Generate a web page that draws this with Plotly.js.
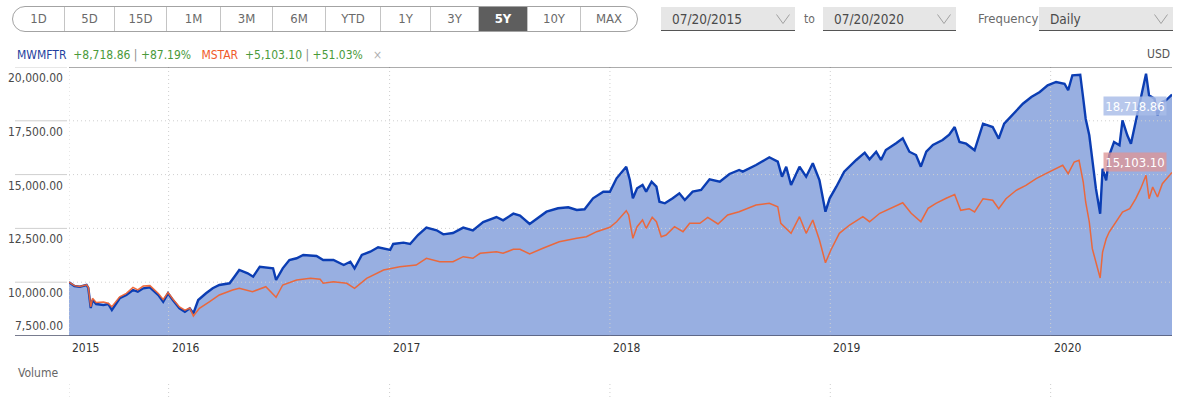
<!DOCTYPE html>
<html>
<head>
<meta charset="utf-8">
<script src="https://cdn.plot.ly/plotly-3.0.1.min.js"></script>
<style>
  html, body { margin:0; padding:0; background:#fff; }
  body { width:1186px; height:397px; position:relative; overflow:hidden;
         font-family:"DejaVu Sans Condensed","Liberation Sans Narrow","DejaVu Sans",sans-serif; }
  #chart { position:absolute; left:0; top:0; width:1186px; height:397px; }
  .grp { position:absolute; left:12px; top:6px; width:624px; height:24px; border:1px solid #a3a3a3;
         border-radius:13px; overflow:hidden; display:flex; z-index:5; background:#fff; }
  .grp div { flex:none; box-sizing:border-box; text-align:center; line-height:24px; font-size:13px; color:#6a6a6a;
             border-right:1px solid #c4c4c4; }
  .grp div:last-child { border-right:none; }
  .grp div.sel { background:#5e5e5e; color:#fff; font-weight:bold; }
  .dbox { position:absolute; top:7px; height:24px; background:#e6e6e6; border-bottom:1px solid #555;
          box-sizing:border-box; font-size:13.5px; color:#4a4a4a; line-height:24px; padding-left:11px; z-index:5; }
  .dbox svg { position:absolute; right:5px; top:7px; }
  .lbl { position:absolute; top:7px; line-height:24px; color:#6a6a6a; z-index:5; }
</style>
</head>
<body>
<div class="grp" id="grp"></div>
<div class="dbox" style="left:661px;width:134px;">07/20/2015<svg width="14" height="10"><polyline points="0.5,0.5 7,9.5 13.5,0.5" fill="none" stroke="#a0a0a0" stroke-width="1"/></svg></div>
<div class="lbl" style="left:804px;font-size:12px;">to</div>
<div class="dbox" style="left:823px;width:133px;">07/20/2020<svg width="14" height="10"><polyline points="0.5,0.5 7,9.5 13.5,0.5" fill="none" stroke="#a0a0a0" stroke-width="1"/></svg></div>
<div class="lbl" style="left:978px;font-size:13px;">Frequency</div>
<div class="dbox" style="left:1039px;width:134px;">Daily<svg width="14" height="10"><polyline points="0.5,0.5 7,9.5 13.5,0.5" fill="none" stroke="#a0a0a0" stroke-width="1"/></svg></div>
<div id="chart"></div>
<script>
// ---------- data ----------
const rangeButtons = ['1D','5D','15D','1M','3M','6M','YTD','1Y','3Y','5Y','10Y','MAX'];
const selectedButton = '5Y';

const mwmftrDates = ['2015-07-20','2015-07-29','2015-08-07','2015-08-18','2015-08-21','2015-08-25','2015-08-28','2015-09-03','2015-09-15','2015-09-23','2015-09-29','2015-10-12','2015-10-23','2015-11-03','2015-11-11','2015-11-20','2015-12-01','2015-12-06','2015-12-15','2015-12-23','2015-12-31',
'2016-01-08','2016-01-19','2016-01-28','2016-02-05','2016-02-11','2016-02-19','2016-03-03','2016-03-14','2016-03-25','2016-04-11','2016-04-19','2016-04-27','2016-05-11','2016-05-20','2016-05-31','2016-06-11','2016-06-22','2016-06-27','2016-07-08','2016-07-19','2016-07-31','2016-08-11','2016-09-02','2016-09-13','2016-09-30','2016-10-17','2016-10-28','2016-11-04','2016-11-16','2016-11-30','2016-12-13',
'2017-01-02','2017-01-07','2017-01-24','2017-02-04','2017-02-17','2017-03-03','2017-03-20','2017-03-31','2017-04-16','2017-05-03','2017-05-19','2017-06-05','2017-06-27','2017-07-08','2017-07-25','2017-08-05','2017-08-21','2017-09-07','2017-09-18','2017-10-07','2017-10-24','2017-11-07','2017-11-20','2017-12-04','2017-12-21',
'2018-01-01','2018-01-12','2018-01-28','2018-02-03','2018-02-08','2018-02-15','2018-02-24','2018-03-02','2018-03-11','2018-03-19','2018-03-24','2018-04-02','2018-04-15','2018-04-26','2018-05-05','2018-05-18','2018-06-01','2018-06-15','2018-07-02','2018-07-18','2018-08-03','2018-08-09','2018-08-31','2018-09-22','2018-10-06','2018-10-13','2018-10-20','2018-10-28','2018-11-11','2018-11-22','2018-12-03','2018-12-14','2018-12-24','2018-12-31',
'2019-01-11','2019-01-24','2019-02-13','2019-02-27','2019-03-07','2019-03-18','2019-03-26','2019-04-03','2019-04-20','2019-05-01','2019-05-12','2019-05-23','2019-05-31','2019-06-09','2019-06-20','2019-07-06','2019-07-17','2019-07-26','2019-08-03','2019-08-14','2019-08-28','2019-09-11','2019-09-27','2019-10-07','2019-10-16','2019-11-05','2019-11-16','2019-11-30','2019-12-14','2019-12-27',
'2020-01-10','2020-01-24','2020-01-30','2020-02-06','2020-02-19','2020-02-24','2020-02-28','2020-03-05','2020-03-10','2020-03-16','2020-03-23','2020-03-27','2020-04-02','2020-04-07','2020-04-15','2020-04-24','2020-04-29','2020-05-07','2020-05-13','2020-05-21','2020-05-29','2020-06-07','2020-06-12','2020-06-21','2020-06-26','2020-07-04','2020-07-10','2020-07-20'];
const mwmftrValues = [10000,9824,9791,9870,9731,8801,9173,8987,8941,8987,8708,9252,9405,9638,9559,9717,9763,9638,9405,9094,9484,
9173,8787,8629,8787,8555,9173,9484,9717,9870,9949,10256,10567,10414,10256,10720,10692,10646,10102,10646,11032,11111,11264,11218,11032,11032,10799,10953,10646,11264,11418,11623,
11497,11776,11837,11776,12194,12535,12410,12225,12287,12535,12410,12796,13028,12875,13186,13093,12705,13044,13276,13434,13481,13355,13388,13899,14206,
14206,14828,15367,14749,13899,14364,14517,14206,14670,14438,13741,13667,13899,14131,13820,14206,14285,14782,14670,15028,15214,15135,15446,15804,15600,14903,15367,14517,15367,14903,15525,14749,13276,13899,
14438,15135,15679,16018,15711,16064,15679,16143,16455,16687,16064,15911,15367,16064,16376,16608,16854,17212,16515,16436,16130,17366,17212,16669,17366,17988,18295,18606,18839,19150,
19303,19224,18918,19615,19643,18527,17598,16827,15586,14345,13183,15274,14735,15897,16515,16362,17524,16827,16436,17524,18527,19689,18685,18527,17756,18374,18453,18718.86];

const mstarDates = ['2015-07-20','2015-07-29','2015-08-07','2015-08-18','2015-08-21','2015-08-25','2015-08-28','2015-09-03','2015-09-15','2015-09-23','2015-09-29','2015-10-12','2015-10-23','2015-11-03','2015-11-11','2015-11-20','2015-12-01','2015-12-06','2015-12-15','2015-12-23','2015-12-31',
'2016-01-08','2016-01-19','2016-01-28','2016-02-05','2016-02-11','2016-02-21','2016-03-09','2016-03-25','2016-04-16','2016-04-27','2016-05-19','2016-06-10','2016-06-27','2016-07-08','2016-07-31','2016-08-23','2016-09-08','2016-09-13','2016-09-30','2016-10-22','2016-11-04','2016-11-24','2016-12-22',
'2017-01-18','2017-02-14','2017-03-03','2017-03-25','2017-04-16','2017-05-03','2017-05-19','2017-05-31','2017-06-27','2017-07-08','2017-07-25','2017-08-05','2017-08-21','2017-09-12','2017-10-09','2017-11-07','2017-11-23','2017-12-10',
'2018-01-01','2018-01-12','2018-01-28','2018-02-01','2018-02-08','2018-02-15','2018-02-24','2018-03-02','2018-03-12','2018-03-19','2018-03-27','2018-04-04','2018-04-18','2018-05-02','2018-05-13','2018-05-30','2018-06-12','2018-06-29','2018-07-15','2018-08-03','2018-08-31','2018-09-22','2018-10-06','2018-10-11','2018-10-28','2018-11-11','2018-11-22','2018-12-03','2018-12-14','2018-12-24',
'2019-01-02','2019-01-16','2019-02-02','2019-02-24','2019-03-07','2019-03-24','2019-04-15','2019-05-01','2019-05-15','2019-05-31','2019-06-12','2019-06-25','2019-07-12','2019-07-26','2019-08-05','2019-08-19','2019-08-28','2019-09-11','2019-09-27','2019-10-07','2019-10-19','2019-11-05','2019-11-21','2019-12-08','2019-12-24',
'2020-01-04','2020-01-21','2020-01-30','2020-02-09','2020-02-17','2020-02-24','2020-02-28','2020-03-05','2020-03-10','2020-03-16','2020-03-23','2020-03-27','2020-04-02','2020-04-07','2020-04-18','2020-04-29','2020-05-11','2020-05-21','2020-05-29','2020-06-07','2020-06-12','2020-06-18','2020-06-26','2020-07-04','2020-07-20'];
const mstarValues = [10000,9840,9800,9880,9760,8860,9250,9060,9080,9020,8860,9320,9480,9760,9640,9820,9840,9700,9480,9200,9520,
9220,8850,8700,8800,8430,8787,9094,9405,9638,9717,9559,9791,9298,9870,10102,10181,10135,9949,10023,9949,9717,10181,10567,
10720,10799,11111,10953,10953,11185,11111,11343,11417,11343,11529,11529,11311,11575,11882,12040,12114,12347,
12551,12811,13322,13123,12040,12579,12891,12505,13016,12811,12114,12193,12579,12347,12737,12737,13016,12705,13123,13276,13588,13667,13509,12737,12272,13044,12272,12891,11961,10906,
11496,12272,12658,13044,12811,13202,13509,13694,13202,12811,13434,13667,13899,14075,13341,13416,13262,13880,13806,13416,13880,14271,14503,14810,15042,
15200,15432,15042,15586,15665,14656,13727,12798,11557,10939,10195,11403,12022,12333,12798,13262,13416,13880,14345,14968,13880,14424,13959,14577,15103.10];

const seriesNames = ['MWMFTR','MSTAR'];
const seriesChange = ['+8,718.86','+5,103.10'];
const seriesChangePct = ['+87.19%','+51.03%'];
const endLabels = ['18,718.86','15,103.10'];
const currency = 'USD';

const yTickValues = [20000,17500,15000,12500,10000,7500];
const yTickLabels = ['20,000.00','17,500.00','15,000.00','12,500.00','10,000.00','7,500.00'];
const xTickDates = ['2015-07-20','2016-01-01','2017-01-01','2018-01-01','2019-01-01','2020-01-01'];
const xTickLabels = ['2015','2016','2017','2018','2019','2020'];

// ---------- toolbar ----------
const btnWidths = [52,50,52,54,52,53,55,50,48,49,53,56];
const grp = document.getElementById('grp');
rangeButtons.forEach((b,i) => {
  const d = document.createElement('div');
  d.textContent = b; d.style.width = btnWidths[i] + 'px';
  if (b === selectedButton) d.className = 'sel';
  grp.appendChild(d);
});

// ---------- chart ----------
const FONT = '"DejaVu Sans Condensed","Liberation Sans Narrow","DejaVu Sans",sans-serif';
const L = 69, R = 14, T = 67, B = 61, W = 1186, H = 397;
const PW = W - L - R, PH = H - T - B;
const X = px => (px - L) / PW;          // page px -> paper x
const Y = py => (H - B - py) / PH;      // page py -> paper y
const xStart = xTickDates[0], xEnd = mwmftrDates[mwmftrDates.length - 1];
const yMin = yTickValues[yTickValues.length - 1], yMax = yTickValues[0];

// grid as traces so it sits between the area fill and the lines
const hx = [], hy = [];
yTickValues.slice(1, -1).forEach(v => { hx.push(xStart, xEnd, null); hy.push(v, v, null); });
const vx = [], vy = [];
xTickDates.forEach(d => { vx.push(d, d, null); vy.push(yMin, yMax, null); });
const gridLine = { color: '#cfcfcf', width: 1, dash: '1px,3px' };

const traces = [
  { x: mwmftrDates, y: mwmftrValues, type: 'scatter', mode: 'none', fill: 'tozeroy', fillcolor: '#98afe1', hoverinfo: 'skip' },
  { x: hx, y: hy, type: 'scatter', mode: 'lines', line: gridLine, hoverinfo: 'skip', connectgaps: false },
  { x: vx, y: vy, type: 'scatter', mode: 'lines', line: gridLine, hoverinfo: 'skip', connectgaps: false },
  { x: mwmftrDates, y: mwmftrValues, type: 'scatter', mode: 'lines', name: seriesNames[0],
    line: { color: '#0b3db3', width: 2.4 }, hoverinfo: 'skip' },
  { x: mstarDates, y: mstarValues, type: 'scatter', mode: 'lines', name: seriesNames[1],
    line: { color: '#ee6434', width: 1.5 }, opacity: 0.95, hoverinfo: 'skip' }
];

const shapes = [];
// vertical dotted grid in the volume strip
xTickDates.forEach(d => {
  shapes.push({ type:'line', xref:'x', x0:d, x1:d, yref:'paper', y0:Y(384), y1:Y(397), line:gridLine, layer:'above' });
});
// left margin tick lines
yTickValues.slice(0, -1).forEach(v => shapes.push({ type:'line', xref:'paper', x0:X(15), x1:X(67), yref:'y', y0:v, y1:v, line:{color:'#cfcfcf', width:1}, layer:'above' }));
// top border
shapes.push({ type:'line', xref:'paper', x0:0, x1:1, yref:'y', y0:yMax, y1:yMax, line:{color:'#5a5a5a', width:1}, layer:'above' });
// bottom axis
shapes.push({ type:'line', xref:'paper', x0:X(15), x1:1, yref:'y', y0:yMin, y1:yMin, line:{color:'#4b506a', width:1.5}, layer:'above' });

const annotations = [];
const txt = (x, y, text, color, size, xanchor) => ({
  xref:'paper', yref:'paper', x:X(x), y:Y(y), text, showarrow:false, xanchor: xanchor || 'left', yanchor:'middle',
  font:{ family:FONT, size: size || 12, color }
});

// legend row (one text line, coloured pieces)
const sp = n => '&nbsp;'.repeat(n);
const green = '#4a9a3a';
const legendText =
  `<span style="color:#1f3f9e">${seriesNames[0]}</span>${sp(2)}` +
  `<span style="color:${green}">${seriesChange[0]}</span> <span style="color:#8a8a8a">|</span> <span style="color:${green}">${seriesChangePct[0]}</span>${sp(3)}` +
  `<span style="color:#f05a2a">${seriesNames[1]}</span>${sp(2)}` +
  `<span style="color:${green}">${seriesChange[1]}</span> <span style="color:#8a8a8a">|</span> <span style="color:${green}">${seriesChangePct[1]}</span>${sp(3)}` +
  `<span style="color:#b0b0b0">×</span>`;
annotations.push(txt(15, 55, legendText, '#333', 12));
annotations.push(txt(1172, 54, currency, '#555', 12, 'right'));
annotations.push(txt(16, 373, 'Volume', '#666', 12));

// y labels
yTickValues.forEach((v, i) => {
  const last = i === yTickValues.length - 1;
  annotations.push({ xref:'paper', yref:'y', x:X(65), y:v, text:yTickLabels[i], showarrow:false,
    xanchor:'right', yanchor: last ? 'bottom' : 'top', yshift: last ? 1 : -2,
    font:{ family:FONT, size:12, color:'#4a4a4a' } });
});
// x labels
xTickDates.forEach((d, i) => {
  annotations.push({ xref:'x', yref:'paper', x:d, y:Y(348), text:xTickLabels[i], showarrow:false,
    xanchor:'left', yanchor:'middle', xshift: 1, font:{ family:FONT, size:12, color:'#333' } });
});
// end-value boxes
annotations.push({ xref:'paper', yref:'y', x:X(1167), y:mwmftrValues[mwmftrValues.length-1], text:endLabels[0], showarrow:false,
  xanchor:'right', yanchor:'top', yshift:-1, bgcolor:'rgba(168,188,232,0.82)', borderpad:1, width:60, height:16,
  font:{ family:FONT, size:13, color:'#ffffff' } });
annotations.push({ xref:'paper', yref:'y', x:X(1167), y:mstarValues[mstarValues.length-1], text:endLabels[1], showarrow:false,
  xanchor:'right', yanchor:'bottom', yshift:0, bgcolor:'rgba(222,150,150,0.78)', borderpad:1, width:60, height:16,
  font:{ family:FONT, size:13, color:'#ffffff' } });

const layout = {
  width: W, height: H,
  margin: { l:L, r:R, t:T, b:B, pad:0 },
  paper_bgcolor: 'rgba(0,0,0,0)', plot_bgcolor: '#ffffff',
  showlegend: false,
  xaxis: { type:'date', range:[xStart, xEnd], showgrid:false, zeroline:false, showticklabels:false, ticks:'', showline:false, fixedrange:true },
  yaxis: { range:[yMin, yMax], showgrid:false, zeroline:false, showticklabels:false, ticks:'', showline:false, fixedrange:true },
  shapes, annotations,
  font: { family: FONT }
};

Plotly.newPlot('chart', traces, layout, { displayModeBar:false, staticPlot:true });
</script>
</body>
</html>
